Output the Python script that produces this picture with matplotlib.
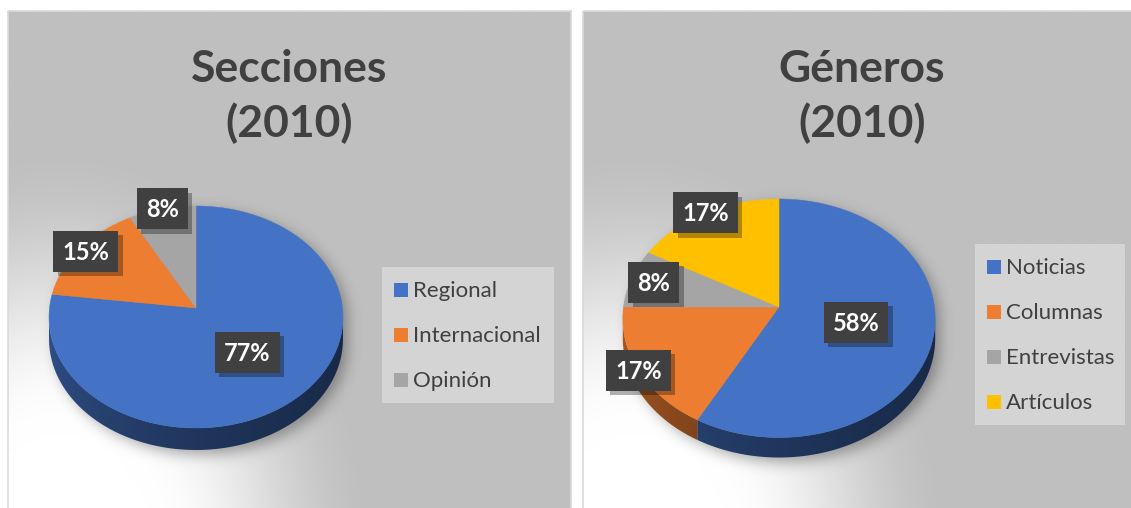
import numpy as np
import matplotlib
matplotlib.use("Agg")
import matplotlib.pyplot as plt
from matplotlib.patches import Polygon, Rectangle
from matplotlib import patheffects as pe

# ---------------- data ----------------
sec_title = ["Secciones", "(2010)"]
sec_labels = ["Regional", "Internacional", "Opinión"]
sec_values = [77, 15, 8]

gen_title = ["Géneros", "(2010)"]
gen_labels = ["Noticias", "Columnas", "Entrevistas", "Artículos"]
gen_values = [58, 17, 8, 17]

slice_colors = ["#4472C4", "#ED7D31", "#A5A5A5", "#FFC000"]

# ---------------- layout ----------------
W, H = 1131, 508
FONT = "Lato"
TXT = "#404040"
BG = np.array([191, 191, 191]) / 255.0

panels = [
    dict(x0=8, x1=571, y0=11, title=sec_title, labels=sec_labels, values=sec_values,
         cx=196, cy=308, rx=146.5, back=102, front=120, depth=22,
         label_r=[0.5, 0.95, 1.0],
         leg=(382, 267, 172), title_x=289.5),
    dict(x0=583, x1=1146, y0=11, title=gen_title, labels=gen_labels, values=gen_values,
         cx=779, cy=307, rx=155.5, back=108, front=130.5, depth=20,
         label_r=[0.5, 1.0, 0.85, 1.0],
         leg=(975, 244, 150), title_x=862),
]

fig = plt.figure(figsize=(W / 100, H / 100), dpi=100)
fig.patch.set_facecolor("white")
ax = fig.add_axes([0, 0, 1, 1])
ax.set_xlim(0, W)
ax.set_ylim(H, 0)
ax.axis("off")
renderer = fig.canvas.get_renderer()


def proj(p, t_deg):
    t = np.radians(t_deg)
    k = p["k"]
    w = 1 + k * np.cos(t)
    x = p["cx"] + p["rx"] * np.sin(t) / w
    y = p["cy"] - p["s"] * np.cos(t) / w
    return x, y


for p in panels:
    r = p["back"] / p["front"]
    p["k"] = (1 - r) / (1 + r)
    p["s"] = p["back"] * (1 + p["k"])

    # panel background with gradient
    x0, x1, y0 = p["x0"], p["x1"], p["y0"]
    xs = np.linspace(x0, x1, 300)
    ys = np.linspace(y0, H, 260)
    X, Y = np.meshgrid(xs, ys)
    gx = x0 + 52
    d = np.sqrt(((X - gx) / 320.0) ** 2 + ((Y - 560) / 420.0) ** 2)
    f = np.clip((1 - d) / 0.7, 0, 1)
    f = f * f * (3 - 2 * f)
    img = BG[None, None, :] + (1 - BG[None, None, :]) * f[:, :, None]
    ax.imshow(img, extent=(x0, x1, H, y0), origin="upper", aspect="auto",
              interpolation="bilinear", zorder=0)
    ax.add_patch(Rectangle((x0, y0), x1 - x0, H - y0 + 5, fill=False,
                           ec="#D9D9D9", lw=1.2, zorder=1))

    # soft shadow of pie
    sx = np.arange(p["cx"] - p["rx"] - 40, p["cx"] + p["rx"] + 40, 1.0)
    sy = np.arange(p["cy"] - p["back"] - 40, p["cy"] + p["front"] + p["depth"] + 40, 1.0)
    SX, SY = np.meshgrid(sx, sy)
    ecy = p["cy"] + (p["front"] - p["back"]) / 2.0
    ery = (p["front"] + p["back"]) / 2.0
    mask = np.zeros_like(SX)
    for dd in np.linspace(0, p["depth"], 8):
        mask = np.maximum(mask, (((SX - p["cx"]) / p["rx"]) ** 2 + ((SY - ecy - dd) / ery) ** 2 <= 1).astype(float))
    sig = 7.0
    kx = np.arange(-25, 26)
    kern = np.exp(-kx ** 2 / (2 * sig ** 2))
    kern /= kern.sum()
    bl = np.apply_along_axis(lambda m: np.convolve(m, kern, mode="same"), 1, mask)
    bl = np.apply_along_axis(lambda m: np.convolve(m, kern, mode="same"), 0, bl)
    shadow = np.zeros(bl.shape + (4,))
    shadow[..., 3] = 0.33 * bl
    ax.imshow(shadow, extent=(sx[0] + 5, sx[-1] + 5, sy[-1] + 5, sy[0] + 5),
              origin="upper", aspect="auto", interpolation="bilinear", zorder=2)

    vals = np.array(p["values"], dtype=float)
    fr = vals / vals.sum()
    ends = np.cumsum(fr) * 360.0
    starts = ends - fr * 360.0

    # sides
    t1 = np.degrees(np.arccos(-p["k"]))
    t2 = 360 - t1
    gxs = np.linspace(p["cx"] - p["rx"] * 1.02, p["cx"] + p["rx"] * 1.02, 300)
    u = (gxs - gxs[0]) / (gxs[-1] - gxs[0])
    shade = 0.72 - 0.35 * np.sqrt(u)
    for i, (a, b) in enumerate(zip(starts, ends)):
        lo, hi = max(a, t1), min(b, t2)
        if lo >= hi:
            continue
        tt = np.linspace(lo, hi, 120)
        tx, ty = proj(p, tt)
        verts = np.concatenate([np.column_stack([tx, ty]),
                                np.column_stack([tx[::-1], ty[::-1] + p["depth"]])])
        poly = Polygon(verts, closed=True, fc="none", ec="none", zorder=3)
        ax.add_patch(poly)
        base = np.array(matplotlib.colors.to_rgb(slice_colors[i]))
        gimg = np.clip(base[None, None, :] * shade[None, :, None], 0, 1)
        gimg = np.repeat(gimg, 2, axis=0)
        im = ax.imshow(gimg, extent=(gxs[0], gxs[-1], p["cy"] + p["front"] + p["depth"] + 5,
                                     p["cy"] - 5), origin="upper", aspect="auto",
                       interpolation="bilinear", zorder=3)
        im.set_clip_path(poly)

    # top faces
    for i, (a, b) in enumerate(zip(starts, ends)):
        tt = np.linspace(a, b, max(int((b - a) * 2), 4))
        tx, ty = proj(p, tt)
        verts = np.concatenate([[[p["cx"], p["cy"]]], np.column_stack([tx, ty])])
        ax.add_patch(Polygon(verts, closed=True, fc=slice_colors[i], ec=slice_colors[i],
                             lw=0.3, zorder=4))

    # data labels
    for i, (a, b) in enumerate(zip(starts, ends)):
        m = (a + b) / 2.0
        rx_, ry_ = proj(p, m)
        lr = p["label_r"][i]
        lx = p["cx"] + lr * (rx_ - p["cx"])
        ly = p["cy"] + lr * (ry_ - p["cy"])
        t = ax.text(lx, ly + 1, f"{fr[i] * 100:.0f}%", ha="center", va="center",
                    fontsize=17, fontfamily=FONT, fontweight="bold", color="white",
                    zorder=7)
        ext = t.get_window_extent(renderer)
        bw = ext.width + 18
        bh = 41
        box = Rectangle((lx - bw / 2, ly - bh / 2), bw, bh, fc="#404040", ec="none",
                        lw=0, zorder=6)
        box.set_path_effects([
            pe.SimplePatchShadow(offset=(3, -3), shadow_rgbFace="black", alpha=0.3),
            pe.Normal()])
        ax.add_patch(box)

    # title
    ax.text(p["title_x"], 82, p["title"][0], ha="center", va="baseline",
            fontsize=32, fontfamily=FONT, fontweight="bold", color=TXT, zorder=6)
    ax.text(p["title_x"], 137, p["title"][1], ha="center", va="baseline",
            fontsize=32, fontfamily=FONT, fontweight="bold", color=TXT, zorder=6)

    # legend
    lx0, ly0, lw_ = p["leg"]
    n = len(p["labels"])
    ax.add_patch(Rectangle((lx0, ly0), lw_, n * 45 + 1, fc="#D4D4D4", ec="none", zorder=5))
    for i, lab in enumerate(p["labels"]):
        bl_y = ly0 + 30 + 45 * i
        ax.add_patch(Rectangle((lx0 + 12, bl_y - 14), 14, 14, fc=slice_colors[i],
                               ec="none", zorder=6))
        ax.text(lx0 + 31, bl_y, lab, ha="left", va="baseline", fontsize=16,
                fontfamily=FONT, color=TXT, zorder=6)

ax.set_xlim(0, W)
ax.set_ylim(H, 0)
fig.savefig("out.png", dpi=100, facecolor="white")
